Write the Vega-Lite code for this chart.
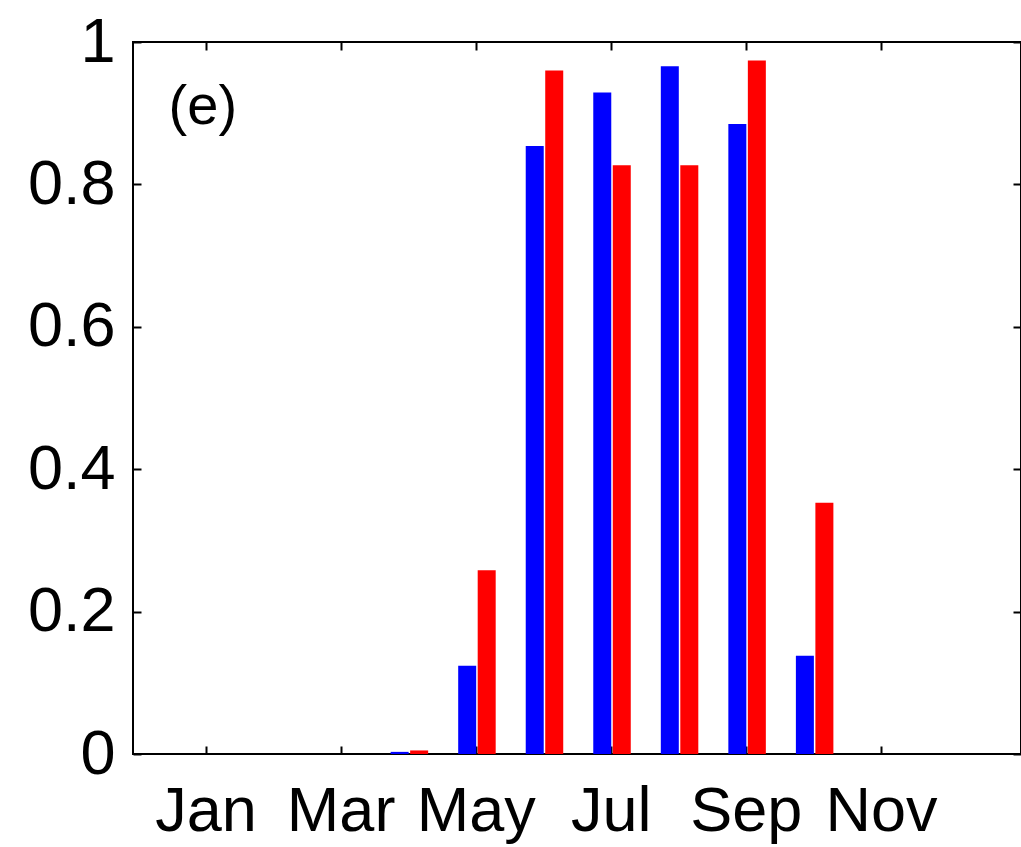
{
  "$schema": "https://vega.github.io/schema/vega-lite/v6.json",
  "width": 888,
  "height": 712,
  "autosize": {"type": "none"},
  "padding": {"left": 133, "top": 42, "right": 0, "bottom": 93},
  "background": "white",
  "config": {
    "view": {"stroke": "black", "strokeWidth": 2},
    "axis": {
      "domain": false,
      "grid": false,
      "tickColor": "black",
      "tickWidth": 2,
      "tickSize": -8,
      "labelFont": "Liberation Sans",
      "labelFontSize": 63,
      "labelColor": "black",
      "labelOverlap": false,
      "labelFlush": false,
      "labelBound": false,
      "title": null
    }
  },
  "datasets": {
    "bars": [
      {"month": 4, "series": "blue", "value": 0.003},
      {"month": 5, "series": "blue", "value": 0.124},
      {"month": 6, "series": "blue", "value": 0.854},
      {"month": 7, "series": "blue", "value": 0.929},
      {"month": 8, "series": "blue", "value": 0.966},
      {"month": 9, "series": "blue", "value": 0.885},
      {"month": 10, "series": "blue", "value": 0.138},
      {"month": 4, "series": "red", "value": 0.005},
      {"month": 5, "series": "red", "value": 0.258},
      {"month": 6, "series": "red", "value": 0.960},
      {"month": 7, "series": "red", "value": 0.827},
      {"month": 8, "series": "red", "value": 0.827},
      {"month": 9, "series": "red", "value": 0.974},
      {"month": 10, "series": "red", "value": 0.353}
    ],
    "label": [{"text": "(e)"}]
  },
  "layer": [
    {
      "data": {"name": "bars"},
      "transform": [{"filter": "datum.series == 'blue'"}],
      "mark": {"type": "bar", "width": 18, "xOffset": -8.5, "color": "#0000ff"},
      "encoding": {
        "x": {
          "field": "month", "type": "quantitative",
          "scale": {"domain": [0, 13], "nice": false, "zero": false},
          "axis": {
            "orient": "bottom",
            "values": [1, 3, 5, 7, 9, 11],
            "labelPadding": 34,
            "labelExpr": "['','Jan','Feb','Mar','Apr','May','Jun','Jul','Aug','Sep','Oct','Nov','Dec'][datum.value]"
          }
        },
        "y": {
          "field": "value", "type": "quantitative",
          "scale": {"domain": [0, 1], "nice": false},
          "axis": {
            "orient": "left",
            "values": [0, 0.2, 0.4, 0.6, 0.8, 1],
            "format": "~g",
            "labelPadding": 26
          }
        }
      }
    },
    {
      "data": {"name": "bars"},
      "transform": [{"filter": "datum.series == 'red'"}],
      "mark": {"type": "bar", "width": 18, "xOffset": 11, "color": "#ff0000"},
      "encoding": {
        "x": {
          "field": "month", "type": "quantitative",
          "axis": {"orient": "top", "values": [1, 3, 5, 7, 9, 11], "labels": false}
        },
        "y": {
          "field": "value", "type": "quantitative",
          "axis": {"orient": "right", "values": [0, 0.2, 0.4, 0.6, 0.8, 1], "labels": false}
        }
      }
    },
    {
      "data": {"name": "label"},
      "mark": {"type": "text", "font": "Liberation Sans", "fontSize": 56, "color": "black", "baseline": "middle", "align": "center"},
      "encoding": {
        "x": {"datum": 0.96, "type": "quantitative", "axis": null},
        "y": {"datum": 0.909, "type": "quantitative", "axis": null},
        "text": {"field": "text"}
      }
    }
  ],
  "resolve": {"axis": {"x": "independent", "y": "independent"}}
}
